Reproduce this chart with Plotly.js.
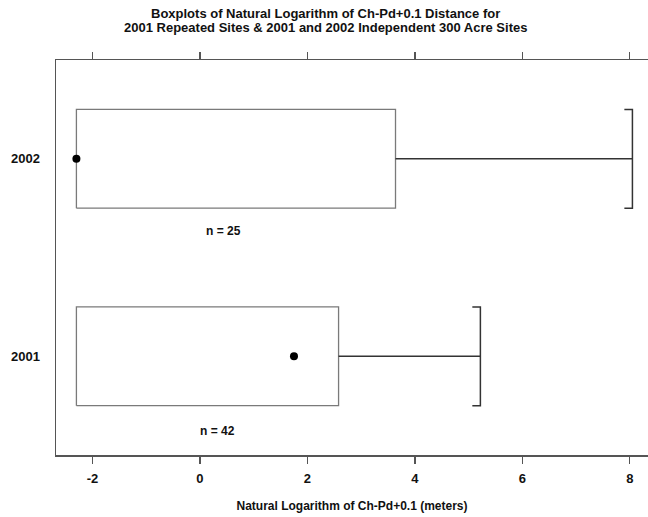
<!DOCTYPE html>
<html>
<head>
<meta charset="utf-8">
<script src="https://cdn.plot.ly/plotly-3.0.1.min.js"></script>
<style>html,body{margin:0;padding:0;background:#fff;}#chart{width:648px;height:517px;}</style>
</head>
<body>
<div id="chart"></div>
<script>
// ---- data ----
const groups = ['2001', '2002'];
const positions = [0, 1];
const q1 = [-2.30, -2.30];
const medians = [1.75, -2.30];
const q3 = [2.58, 3.64];
const upperWhisker = [5.22, 8.05];
const counts = [42, 25];
const xTicks = [-2, 0, 2, 4, 6, 8];
const titleLines = [
  'Boxplots of Natural Logarithm of Ch-Pd+0.1 Distance for',
  '2001 Repeated Sites & 2001 and 2002 Independent 300 Acre Sites'
];

// ---- style ----
const halfBox = 0.25;
const capTick = 0.15;
const boxColor = '#7a7a7a';
const lineColor = '#333333';
const axisColor = '#555555';
const fontFam = '"Liberation Sans", Arial, Helvetica, sans-serif';

const traces = [];
groups.forEach((g, i) => {
  const p = positions[i];
  traces.push({
    type: 'scatter', mode: 'lines',
    x: [q1[i], q3[i], q3[i], q1[i], q1[i]],
    y: [p - halfBox, p - halfBox, p + halfBox, p + halfBox, p - halfBox],
    line: {color: boxColor, width: 1.3}, hoverinfo: 'skip', showlegend: false
  });
  traces.push({
    type: 'scatter', mode: 'lines',
    x: [q3[i], upperWhisker[i]], y: [p, p],
    line: {color: lineColor, width: 1.3}, hoverinfo: 'skip', showlegend: false
  });
  traces.push({
    type: 'scatter', mode: 'lines',
    x: [upperWhisker[i] - capTick, upperWhisker[i], upperWhisker[i], upperWhisker[i] - capTick],
    y: [p - halfBox, p - halfBox, p + halfBox, p + halfBox],
    line: {color: lineColor, width: 1.5}, hoverinfo: 'skip', showlegend: false
  });
  traces.push({
    type: 'scatter', mode: 'markers',
    x: [medians[i]], y: [p],
    marker: {color: '#000', size: 8}, hoverinfo: 'skip', showlegend: false
  });
});

const annotations = [
  {x: 0.32, y: -0.378, text: 'n = ' + counts[0]},
  {x: 0.43, y: 0.633, text: 'n = ' + counts[1]}
].map(a => Object.assign(a, {
  xref: 'x', yref: 'y', showarrow: false,
  font: {family: fontFam, size: 12, color: '#111', weight: 'bold'}
}));

// title lines (paper coords: plot top at 60px, height 395px, left 56px, width 592px)
[1.1165, 1.0835].forEach((yy, k) => {
  annotations.push({
    xref: 'paper', yref: 'paper', x: 0.4544, y: yy, xanchor: 'center', yanchor: 'middle',
    showarrow: false, text: titleLines[k],
    font: {family: fontFam, size: 13, color: '#111', weight: 'bold'}
  });
});

const layout = {
  width: 648, height: 517,
  margin: {l: 56, r: 0, t: 60, b: 62},
  paper_bgcolor: '#fff', plot_bgcolor: '#fff',
  xaxis: {
    range: [-2.68, 8.34],
    tickvals: xTicks, ticktext: xTicks.map(String),
    ticks: 'outside', ticklen: 7, tickwidth: 1.3, tickcolor: axisColor,
    showline: true, linecolor: axisColor, linewidth: 1.5, mirror: 'allticks',
    showgrid: false, zeroline: false, ticklabelstandoff: 4,
    tickfont: {family: fontFam, size: 13, color: '#111', weight: 'bold'},
    title: {text: 'Natural Logarithm of Ch-Pd+0.1 (meters)', standoff: 16,
            font: {family: fontFam, size: 12, color: '#111', weight: 'bold'}}
  },
  yaxis: {
    range: [-0.5, 1.5],
    tickvals: positions, ticktext: groups,
    ticks: '', showline: true, linecolor: axisColor, linewidth: 1.5,
    showgrid: false, zeroline: false, ticklabelstandoff: 12,
    tickfont: {family: fontFam, size: 13, color: '#111', weight: 'bold'}
  },
  annotations: annotations
};

Plotly.newPlot('chart', traces, layout, {displayModeBar: false, staticPlot: true});
</script>
</body>
</html>
